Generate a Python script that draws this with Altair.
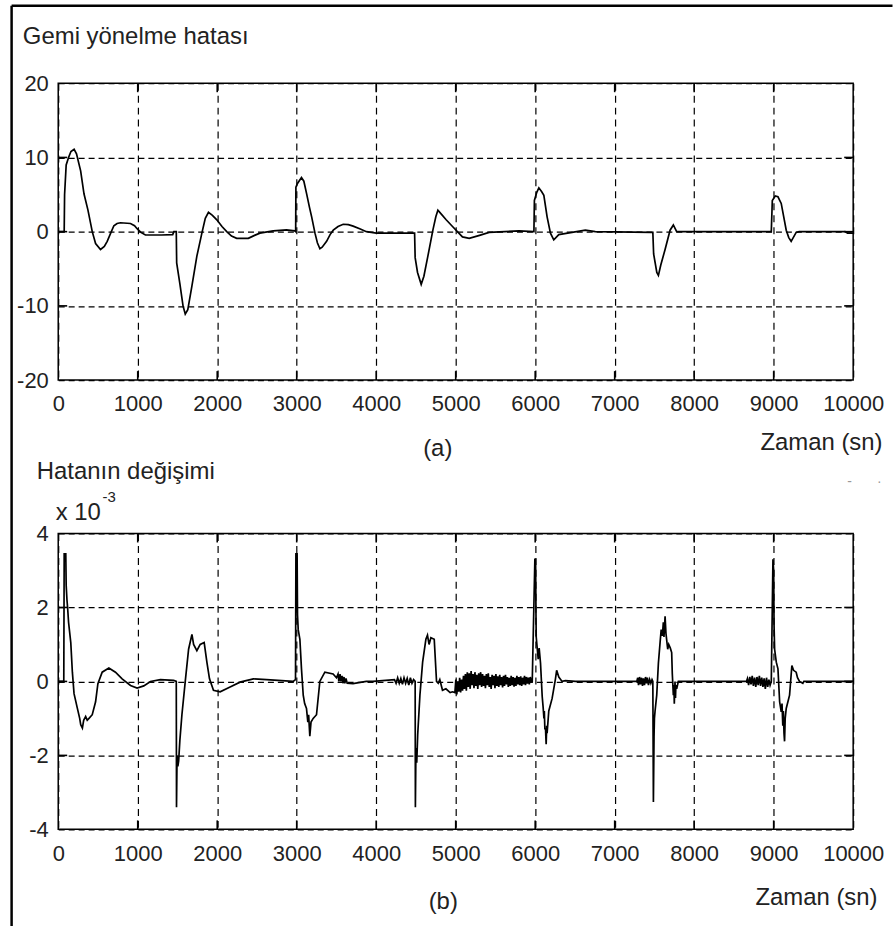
import altair as alt
import pandas as pd

FONT = "Liberation Sans"

# ---------------- data: (a) heading error ----------------
top_t = [0, 75, 80, 100, 130, 160, 200, 230, 282, 324, 374, 428, 470, 532, 580, 616, 660, 700, 740, 783,
         909, 960, 992, 1040, 1097, 1300, 1440, 1455, 1485, 1490, 1530, 1570, 1598, 1630, 1682, 1744, 1807,
         1850, 1890, 1940, 1995, 2060, 2120, 2180, 2245, 2391, 2470, 2537, 2704, 2871, 2975, 2987, 2990,
         3010, 3060, 3090, 3125, 3160, 3188, 3230, 3260, 3292, 3320, 3376, 3420, 3460, 3520, 3585, 3650,
         3710, 3800, 3877, 4002, 4462, 4483, 4490, 4520, 4566, 4600, 4650, 4713, 4750, 4776, 4800, 4880,
         4960, 5085, 5170, 5300, 5420, 5796, 5984, 5990, 6020, 6046, 6080, 6109, 6150, 6192, 6234, 6297,
         6464, 6631, 6756, 7466, 7480, 7490, 7530, 7550, 7580, 7634, 7697, 7738, 7780, 8970, 8983, 9020,
         9054, 9095, 9158, 9190, 9220, 9283, 9320, 9900, 9930, 10000]
top_v = [0, 0, 5, 9, 10, 10.8, 11.1, 10.5, 8.2, 5.1, 2.9, 0, -1.6, -2.4, -2.0, -1.3, -0.2, 0.8, 1.1, 1.2,
         1.1, 0.8, 0.4, -0.1, -0.45, -0.45, -0.4, 0, 0, -4.2, -7, -10, -11.1, -10.5, -7.3, -3.3, -0.2,
         1.8, 2.6, 2.2, 1.6, 0.7, 0, -0.6, -0.9, -0.9, -0.5, -0.2, 0.1, 0.25, 0.1, 0, 6.0,
         6.5, 7.3, 6.8, 5.1, 3.3, 2.0, -0.2, -1.5, -2.3, -2.1, -1.3, -0.4, 0.2, 0.7, 1.0, 0.95,
         0.75, 0.35, 0, -0.2, -0.2, -0.2, -3.5, -5.5, -7.1, -6, -3.3, 0.2, 2.0, 2.9, 2.6, 1.6,
         0.7, -0.7, -0.9, -0.5, -0.1, 0.1, 0, 4.2, 5.3, 5.9, 5.4, 4.9, 2.0, -0.2, -1.1, -0.4,
         -0.1, 0.2, 0, -0.1, -0.1, -3, -5.5, -5.9, -4.5, -2.4, 0.2, 0.9, 0, 0, 4.2, 4.8,
         4.7, 3.8, 0.2, -0.8, -1.3, -0.1, 0, 0, -0.2, -0.2]

# ---------------- data: (b) error rate (x 10^-3) ----------------
b1_t = [0, 70, 75, 95, 100, 110, 118, 130, 158, 178, 199, 241, 270, 283, 304, 320, 345, 365, 387, 428,
        470, 499, 553, 637, 720, 804, 909, 992, 1076, 1160, 1285, 1452, 1485, 1488, 1495, 1505, 1515,
        1530, 1556, 1598, 1640, 1682, 1703, 1744, 1786, 1836, 1870, 1903, 1953, 2037, 2162, 2287, 2454,
        2621, 2955, 2985, 2990, 3005, 3010, 3019, 3040, 3060, 3082, 3100, 3123, 3140, 3150, 3165, 3180,
        3207, 3249, 3291, 3354, 3458, 3500, 3520, 3530, 3545, 3555, 3570, 3580, 3595, 3605, 3620, 3635,
        3708, 3875, 3960, 4230, 4250, 4270, 4290, 4310, 4330, 4350, 4370, 4390, 4410, 4430, 4450, 4470,
        4490, 4493, 4500, 4510, 4522, 4550, 4584, 4625, 4645, 4665, 4688, 4730, 4759, 4780, 4800, 4834,
        4877, 4930, 4960]
b1_v = [0, 0, 3.45, 3.45, 2.6, 2.2, 2.0, 1.6, 1.05, 0.25, -0.33, -0.73, -1.0, -1.17, -1.26, -1.05, -0.95,
        -1.05, -1.0, -0.9, -0.55, -0.06, 0.25, 0.36, 0.25, 0.07, -0.11, -0.18, -0.12, 0, 0.05, 0.03, 0,
        -3.4, -2.0, -2.3, -2.15, -1.6, -0.9, 0, 0.87, 1.27, 1.0, 0.83, 1.0, 1.05, 0.52, 0.07, -0.24,
        -0.28, -0.15, -0.02, 0.07, 0.05, 0, 0.05, 3.45, 3.45, 1.8, 1.4, 1.14, 0.34, -0.37, -0.6, -0.73,
        -1.1, -0.9, -1.48, -1.1, -1.0, -0.9, 0, 0.25, 0.2, 0.1, 0.2, 0.0, 0.2, 0.0, 0.15, -0.05, 0.12,
        -0.05, 0.08, -0.05, -0.06, 0, 0, 0.05, -0.05, 0.1, -0.05, 0.08, -0.08, 0.1, -0.05, 0.08, -0.1,
        0.1, -0.05, 0.05, 0, -3.4, -1.8, -2.2, -1.44, -0.37, 0.52, 1.14, 1.25, 1.0, 1.18, 1.14, 0,
        -0.05, 0.05, -0.24, -0.2, -0.3, -0.28]

# dense noisy stretch between 5000 and 6000 s (sampled every 12 s)
b2_t = list(range(4990, 5960, 12))
b2_v = [-0.30, 0.05, -0.35, 0.0, -0.28, 0.1, -0.3, 0.05, -0.25, 0.15,
        -0.2, 0.2, -0.25, 0.25, -0.15, 0.22, -0.2, 0.28, -0.1, 0.2,
        -0.18, 0.25, -0.12, 0.18, -0.2, 0.22, -0.1, 0.25, -0.15, 0.2,
        -0.12, 0.15, -0.18, 0.2, -0.1, 0.22, -0.15, 0.12, -0.2, 0.18,
        -0.1, 0.15, -0.18, 0.2, -0.12, 0.14, -0.15, 0.18, -0.1, 0.12,
        -0.16, 0.15, -0.12, 0.18, -0.08, 0.12, -0.15, 0.1, -0.12, 0.15,
        -0.1, 0.12, -0.14, 0.1, -0.12, 0.15, -0.08, 0.12, -0.1, 0.14,
        -0.12, 0.1, -0.08, 0.15, -0.1, 0.12, -0.06, 0.1, -0.08, 0.12, 0.0]

b3_t = [5963, 5996, 6005, 6010, 6013, 6038, 6050, 6067, 6088, 6100, 6110, 6115, 6122, 6130, 6134, 6138,
        6145, 6150, 6171, 6213, 6255, 6270, 6297, 6338, 6380, 6506, 7278, 7290, 7300, 7312, 7325, 7338,
        7350, 7362, 7375, 7388, 7400, 7412, 7425, 7440, 7455, 7470, 7480, 7487, 7495, 7500, 7508, 7529,
        7550, 7571, 7585, 7600, 7612, 7620, 7634, 7645, 7667, 7680, 7700, 7717, 7725, 7738, 7745, 7750,
        7759, 7765, 7770, 7780, 7801, 8657, 8670, 8685, 8700, 8715, 8730, 8745, 8760, 8775, 8790, 8805,
        8820, 8835, 8850, 8865, 8880, 8895, 8910, 8925, 8940, 8955, 8970, 8991, 9000, 9005, 9012, 9033,
        9054, 9075, 9095, 9105, 9115, 9122, 9130, 9137, 9145, 9158, 9200, 9229, 9250, 9283, 9300, 9325,
        9367, 9380, 10000]
b3_v = [0.0, 3.3, 3.3, 1.8, 1.2, 0.6, 0.9, 0.5, -0.4, -0.7, -1.0, -0.8, -1.3, -1.26, -1.5, -1.7,
        -1.2, -1.4, -0.8, -0.46, 0.07, 0.3, 0.12, 0.0, 0.02, 0, 0, 0.1, -0.1, 0.12, -0.08, 0.1,
        -0.12, 0.08, -0.1, 0.12, -0.05, 0.1, -0.1, 0.05, -0.05, 0.05, 0, -3.26, -1.5, -1.0, -0.8, -0.37,
        0.5, 1.05, 1.4, 1.23, 1.6, 1.2, 1.76, 1.3, 0.87, 1.0, 0.9, 0.78, 0.2, -0.37, -0.1, -0.6,
        0, -0.45, -0.1, -0.2, 0, 0, 0.08, -0.1, 0.12, -0.08, 0.15, -0.12, 0.1, -0.15, 0.12, -0.1,
        0.15, -0.12, 0.1, -0.15, 0.08, -0.2, 0.1, -0.15, 0.05, -0.1, 0, 3.3, 3.0, 1.5, 0.87, 0.52,
        0.34, -0.55, -0.82, -0.6, -1.2, -0.8, -1.4, -1.62, -1.0, -0.73, -0.37, 0.43, 0.3, 0.25, 0.1, 0,
        -0.05, 0, 0]

x_ticks = [0, 1000, 2000, 3000, 4000, 5000, 6000, 7000, 8000, 9000, 10000]
inner_x_ticks = [1000, 2000, 3000, 4000, 5000, 6000, 7000, 8000, 9000]
top_y_ticks = [-20, -10, 0, 10, 20]
bot_y_ticks = [-4, -2, 0, 2, 4]

df_top = pd.DataFrame({"t": top_t, "v": top_v})
df_bot = pd.DataFrame({"t": b1_t + b2_t + b3_t, "v": b1_v + b2_v + b3_v})

W = 798
H1 = 298
H2 = 297

LABEL_EXPR = "'' + datum.value"


def one(label):
    return pd.DataFrame({"label": [label]})


def text(label, x, y, size=24, align="left", color="#222222"):
    return alt.Chart(one(label)).mark_text(
        align=align, baseline="alphabetic", font=FONT, fontSize=size, color=color
    ).encode(x=alt.value(x), y=alt.value(y), text="label:N")


def panel(df, ydom, yticks, H):
    x_enc = alt.X("t:Q", scale=alt.Scale(domain=[0, 10000], nice=False),
                  axis=alt.Axis(values=x_ticks, labelExpr=LABEL_EXPR, title=None))
    y_enc = alt.Y("v:Q", scale=alt.Scale(domain=ydom, nice=False),
                  axis=alt.Axis(values=yticks, labelExpr=LABEL_EXPR, title=None))
    line = alt.Chart(df).mark_line(color="black", strokeWidth=1.7).encode(x=x_enc, y=y_enc)
    xt = pd.DataFrame({"t": inner_x_ticks})
    yt = pd.DataFrame({"v": yticks[1:-1]})
    tk = dict(color="black", strokeWidth=1.6)
    t1 = alt.Chart(xt).mark_rule(**tk).encode(x=x_enc, y=alt.value(0), y2=alt.value(9))
    t2 = alt.Chart(xt).mark_rule(**tk).encode(x=x_enc, y=alt.value(H - 9), y2=alt.value(H))
    t3 = alt.Chart(yt).mark_rule(**tk).encode(y=y_enc, x=alt.value(0), x2=alt.value(9))
    t4 = alt.Chart(yt).mark_rule(**tk).encode(y=y_enc, x=alt.value(W - 9), x2=alt.value(W))
    return [line, t1, t2, t3, t4]


# top panel with figure frame
frame_l = alt.Chart(one("f")).mark_rule(color="black", strokeWidth=2.5).encode(
    x=alt.value(-46.8), y=alt.value(-77.7), y2=alt.value(852))
frame_t = alt.Chart(one("f")).mark_rule(color="black", strokeWidth=2.5).encode(
    x=alt.value(-46.8), x2=alt.value(837.5), y=alt.value(-77.7))

top = alt.layer(
    *panel(df_top, [-20, 20], top_y_ticks, H1),
    frame_l, frame_t,
    text("Gemi yönelme hatası", -35.5, -39),
    text("(a)", 381, 374, align="center"),
    text("Zaman (sn)", 827.5, 368, align="right"),
    text("-", 792, 404, size=14, color="#999999"),
    text("·", 822, 404, size=14, color="#999999"),
).properties(width=W, height=H1)

bottom = alt.layer(
    *panel(df_bot, [-4, 4], bot_y_ticks, H2),
    text("Hatanın değişimi", -21.5, -54.5),
    text("x 10", -2.5, -14),
    text("-3", 44.5, -32, size=15),
    text("(b)", 386.5, 376.5, align="center"),
    text("Zaman (sn)", 822.5, 372.5, align="right"),
).properties(width=W, height=H2)

chart = alt.vconcat(top, bottom, spacing=154, bounds="flush").properties(
    padding={"left": 9.45, "top": 1.75, "right": 0, "bottom": 0},
    background="white",
).configure_view(
    stroke="black", strokeWidth=1.5
).configure_axis(
    grid=True, gridColor="black", gridOpacity=1, gridWidth=1.2,
    domain=False, ticks=False,
    labelFont=FONT, labelFontSize=22, labelColor="#222222",
    labelFlush=False, labelOverlap=False,
).configure_axisX(
    gridDash=[7, 5], labelPadding=14
).configure_axisY(
    gridDash=[6, 4], labelPadding=10
)

chart.save("out.html", embed_options={"renderer": "svg", "actions": False})
